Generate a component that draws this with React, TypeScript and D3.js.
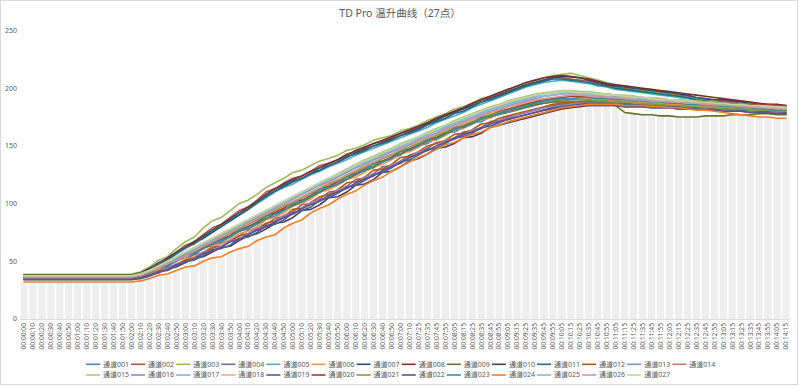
import React from 'react';
import * as d3 from 'd3';

const W = 800;
const H = 387;

const title = 'TD Pro 温升曲线（27点）';

const times = [
  '00:00:00','00:00:10','00:00:20','00:00:30','00:00:40','00:00:50','00:01:00','00:01:10','00:01:20','00:01:30',
  '00:01:40','00:01:50','00:02:00','00:02:10','00:02:20','00:02:30','00:02:40','00:02:50','00:03:00','00:03:10',
  '00:03:20','00:03:30','00:03:40','00:03:50','00:04:00','00:04:10','00:04:20','00:04:30','00:04:40','00:04:50',
  '00:05:00','00:05:10','00:05:20','00:05:30','00:05:40','00:05:50','00:06:00','00:06:10','00:06:20','00:06:30',
  '00:06:40','00:06:50','00:07:00','00:07:10','00:07:25','00:07:35','00:07:45','00:07:55','00:08:05','00:08:15',
  '00:08:25','00:08:35','00:08:45','00:08:55','00:09:05','00:09:15','00:09:25','00:09:35','00:09:45','00:09:55',
  '00:10:05','00:10:15','00:10:25','00:10:35','00:10:45','00:10:55','00:11:05','00:11:15','00:11:25','00:11:35',
  '00:11:45','00:11:55','00:12:05','00:12:15','00:12:25','00:12:35','00:12:45','00:12:55','00:13:05','00:13:15',
  '00:13:25','00:13:35','00:13:45','00:13:55','00:14:05','00:14:15',
];

const seriesNames = [
  '通道001','通道002','通道003','通道004','通道005','通道006','通道007','通道008','通道009','通道010',
  '通道011','通道012','通道013','通道014','通道015','通道016','通道017','通道018','通道019','通道020',
  '通道021','通道022','通道023','通道024','通道025','通道026','通道027',
];

const seriesColors = [
  '#4F81BD','#C0504D','#9BBB59','#8064A2','#4BACC6','#F79646','#2C4D75','#772C2A','#5F7530','#4D3B62',
  '#276A7C','#B65708','#729ACA','#CD7371','#AFC97A','#9983B5','#6FBDD1','#F9AB6B','#3A679C','#9F3B38',
  '#7E9C40','#664F83','#358EA6','#F07F24','#95B3D7','#D99694','#C3D69B',
];

const yTicks = [0, 50, 100, 150, 200, 250];

const ch001 = [35,35,35,35,35,35,35,35,35,35,35,35,35,
  37,40,42,46,51,53,56,61,64,67, 71,76,78,82,87,89,94,99,101,105,
  110,114,116,121,126,128,131,137,139,142, 147,150,152,157,161,162,166,170,171,175,
  177,179,181,183,185,187,188,189,190,190, 190,189,189,188,188,187,187,186,186,185,
  185,184,183,183,183,182,182,181,181,180, 180,179,179];
const ch002 = [37.5,37.5,37.5,37.5,37.5,37.5,37.5,37.5,37.5,37.5,37.5,37.5,37.5,
  40,44,49,52,58,64,67,73,79,82, 88,94,97,103,110,113,118,122,124,128,
  133,135,138,143,145,148,152,154,157,161, 163,166,170,173,176,180,182,186,190,192,
  195,198,201,203,205,207,209,209,208,207, 206,204,203,201,200,199,198,197,196,195,
  194,193,191,190,189,189,188,187,186,186, 185,185,184];
const ch003 = [38.7,38.7,38.7,38.7,38.7,38.7,38.7,38.7,38.7,38.7,38.7,38.7,38.7,
  41,45,51,54,61,67,71,79,85,88, 94,100,103,108,114,118,122,127,129,133,
  137,139,142,146,148,151,155,157,159,163, 165,168,172,175,178,182,184,187,191,193,
  196,199,201,204,206,209,211,212,213,211, 209,207,205,203,201,200,198,197,196,195,
  193,192,191,190,189,188,187,186,185,184, 183,183,182];
const ch004 = [35.5,35.5,35.5,35.5,35.5,35.5,35.5,35.5,35.5,35.5,35.5,35.5,35.5,
  37,39,43,45,47,51,56,57,61,66, 68,72,77,78,82,87,89,93,99,100,
  104,110,111,115,121,122,126,132,133,137, 142,144,148,153,154,157,162,163,166,171,
  172,175,177,179,181,183,185,186,187,188, 188,188,187,187,186,186,185,185,184,184,
  183,183,182,182,181,181,180,180,179,179, 179,178,178];
const ch005 = [36,36,36,36,36,36,36,36,36,36,36,36,36,
  39,42,46,51,56,61,66,70,75,80, 85,90,95,100,105,110,114,117,121,125,
  128,132,135,138,142,145,148,151,154,157, 160,163,166,170,173,176,179,183,186,189,
  192,195,198,201,203,205,206,207,206,205, 204,202,201,199,198,197,196,195,194,193,
  192,191,189,188,187,187,186,185,184,184, 183,182,181];
const ch006 = [34,34,34,34,34,34,34,34,34,34,34,34,34,
  36,38,42,44,47,52,54,58,63,65, 69,74,76,80,86,88,92,98,100,104,
  110,112,116,121,123,127,132,134,138,143, 145,149,154,155,159,164,165,169,173,174,
  178,180,182,184,186,188,189,190,191,191, 191,190,190,189,189,188,188,187,187,186,
  186,185,185,184,184,183,183,182,182,181, 181,180,180];
const ch007 = [36.5,36.5,36.5,36.5,36.5,36.5,36.5,36.5,36.5,36.5,36.5,36.5,36.5,
  39,43,47,52,57,62,66,70,75,80, 85,90,95,101,106,111,115,119,122,126,
  129,133,136,140,144,147,150,153,156,159, 162,165,169,172,176,179,182,185,188,191,
  194,197,200,203,205,207,209,210,210,209, 207,205,203,202,201,200,199,198,197,196,
  195,194,192,191,190,190,189,188,187,186, 185,185,184];
const ch008 = [38,38,38,38,38,38,38,38,38,38,38,38,38,
  40,44,48,53,58,62,67,72,77,82, 87,92,97,102,108,113,117,121,124,128,
  131,135,138,142,146,149,152,155,158,161, 164,167,170,174,177,180,183,187,190,193,
  196,199,202,205,207,209,210,211,210,209, 208,206,204,203,202,201,200,199,198,197,
  196,195,194,193,192,191,190,189,188,187, 186,186,185];
const ch009 = [38.3,38.3,38.3,38.3,38.3,38.3,38.3,38.3,38.3,38.3,38.3,38.3,38.3,
  40,42,45,48,51,55,58,62,65,69, 72,76,80,83,87,91,95,98,102,106,
  110,114,117,121,125,129,132,136,140,143, 147,150,154,157,160,164,167,170,173,176,
  178,180,182,184,186,187,188,188,188,187, 187,187,186,185,179,178,177,177,176,176,
  175,175,175,176,176,176,177,177,177,178, 178,177,177];
const ch010 = [35,35,35,35,35,35,35,35,35,35,35,35,35,
  36,38,40,44,45,49,53,54,58,62, 63,68,72,74,78,83,84,88,94,95,
  99,105,106,110,116,117,121,127,128,132, 137,139,143,148,149,152,157,158,161,166,
  168,170,172,174,176,178,180,182,183,184, 185,185,185,185,184,184,184,183,183,183,
  182,182,182,181,181,181,180,180,180,179, 179,179,178];
const ch011 = [37,37,37,37,37,37,37,37,37,37,37,37,37,
  39,43,48,51,57,62,65,71,77,80, 86,92,95,101,107,111,116,120,122,126,
  131,133,136,141,143,146,150,152,155,159, 161,164,168,171,174,178,180,184,188,190,
  193,196,199,202,204,206,208,208,207,206, 205,203,202,200,199,198,197,196,195,194,
  193,192,190,189,188,188,187,186,185,185, 184,184,183];
const ch012 = [34.5,34.5,34.5,34.5,34.5,34.5,34.5,34.5,34.5,34.5,34.5,34.5,34.5,
  36,38,42,43,47,51,53,57,62,63, 67,72,74,78,83,85,89,95,96,101,
  106,108,112,118,119,123,129,130,134,140, 141,145,150,152,155,160,161,164,169,170,
  174,176,178,180,182,184,186,187,188,188, 189,189,188,188,187,187,186,186,185,185,
  184,184,183,183,182,182,181,181,180,180, 179,179,178];
const ch013 = [36.5,36.5,36.5,36.5,36.5,36.5,36.5,36.5,36.5,36.5,36.5,36.5,36.5,
  38,41,44,48,52,56,60,64,68,72, 76,80,84,88,92,96,100,104,108,112,
  116,119,123,127,131,134,138,141,145,148, 151,155,158,161,165,168,171,174,177,180,
  182,185,187,189,191,193,194,195,196,196, 195,195,194,194,193,192,192,191,190,190,
  189,189,188,187,187,186,186,185,185,184, 184,183,183];
const ch014 = [37,37,37,37,37,37,37,37,37,37,37,37,37,
  39,42,45,49,53,57,61,65,69,73, 77,81,85,89,93,97,101,105,109,113,
  117,121,124,128,132,136,139,143,146,150, 153,157,160,163,167,170,173,176,179,182,
  184,187,189,191,193,195,196,197,197,197, 196,195,195,194,193,193,192,191,191,190,
  190,189,189,188,188,187,187,186,186,185, 185,184,184];
const ch015 = [37.5,37.5,37.5,37.5,37.5,37.5,37.5,37.5,37.5,37.5,37.5,37.5,37.5,
  39,42,46,50,54,58,62,66,70,74, 78,82,86,90,94,98,102,106,110,114,
  118,122,126,130,134,138,141,145,148,152, 155,158,162,165,168,172,175,178,181,184,
  186,189,191,193,195,196,197,198,198,197, 197,196,195,194,194,193,192,192,191,190,
  190,189,189,188,188,187,187,186,186,185, 185,184,184];
const ch016 = [35,35,35,35,35,35,35,35,35,35,35,35,35,
  36,39,40,44,48,49,53,58,59,63, 68,69,74,79,80,84,90,91,95,101,
  103,106,112,114,117,123,125,128,134,136, 140,145,146,150,155,156,159,164,165,169,
  172,174,177,179,181,183,184,185,186,187, 187,187,187,186,186,185,185,185,184,184,
  183,183,183,182,182,181,181,181,180,180, 180,179,179];
const ch017 = [36,36,36,36,36,36,36,36,36,36,36,36,36,
  38,41,45,49,53,57,61,65,69,73, 77,81,85,90,94,98,102,106,110,114,
  118,121,125,129,133,136,140,143,147,150, 154,157,160,164,167,170,173,176,179,182,
  185,187,189,191,193,195,196,196,196,196, 195,194,193,193,192,191,191,190,189,189,
  188,188,187,187,186,186,185,185,184,184, 183,183,182];
const ch018 = [35.5,35.5,35.5,35.5,35.5,35.5,35.5,35.5,35.5,35.5,35.5,35.5,35.5,
  37,40,43,47,51,54,58,62,66,70, 74,78,82,86,89,93,97,101,105,109,
  113,117,120,124,128,132,135,139,142,146, 149,153,156,159,163,166,169,172,175,178,
  180,182,185,187,189,190,191,192,193,193, 193,192,192,191,191,190,190,189,188,188,
  187,187,186,186,185,185,184,184,183,183, 182,182,181];
const ch019 = [34,34,34,34,34,34,34,34,34,34,34,34,34,
  35,37,41,42,46,50,51,55,60,61, 64,70,71,75,81,82,86,92,94,97,
  103,105,109,114,116,120,125,127,131,136, 138,142,147,148,152,157,158,161,166,167,
  170,173,175,177,179,181,183,184,185,186, 187,187,187,186,186,186,185,185,185,184,
  184,183,183,183,182,182,181,181,181,180, 180,180,179];
const ch020 = [36,36,36,36,36,36,36,36,36,36,36,36,36,
  38,41,45,46,51,56,57,62,67,69, 72,78,80,84,90,92,96,102,103,107,
  113,115,119,124,126,130,135,137,140,146, 147,151,156,157,161,166,167,170,175,176,
  180,182,184,186,188,190,191,192,193,193, 193,193,192,192,191,191,190,190,189,189,
  189,188,188,188,187,187,187,186,186,186, 186,185,185];
const ch021 = [37,37,37,37,37,37,37,37,37,37,37,37,37,
  39,41,44,48,51,55,59,63,67,70, 74,78,82,86,90,94,98,101,105,109,
  113,117,120,124,128,131,135,139,142,146, 149,152,156,159,162,165,168,171,174,177,
  179,181,183,185,187,188,189,190,190,190, 190,189,189,188,188,187,187,186,186,185,
  185,184,184,183,183,182,182,182,181,181, 181,180,180];
const ch022 = [34.5,34.5,34.5,34.5,34.5,34.5,34.5,34.5,34.5,34.5,34.5,34.5,34.5,
  36,38,40,43,47,49,52,57,59,62, 67,69,73,77,80,84,88,91,96,99,
  102,107,110,113,118,121,124,129,132,135, 140,143,146,150,153,156,160,162,165,169,
  171,173,175,177,179,181,182,183,184,185, 185,185,185,185,184,184,184,183,183,183,
  182,182,182,181,181,180,180,180,179,179, 179,178,178];
const ch023 = [36,36,36,36,36,36,36,36,36,36,36,36,36,
  38,40,44,46,50,55,57,61,66,68, 71,77,79,83,89,91,94,100,102,106,
  112,114,117,123,125,129,134,136,139,145, 146,150,155,156,160,165,166,169,174,175,
  178,181,183,185,187,189,190,191,191,192, 192,191,191,190,190,189,189,188,188,187,
  187,186,186,185,185,184,184,183,183,182, 182,181,181];
const ch024 = [32,32,32,32,32,32,32,32,32,32,32,32,32,
  33,35,38,39,42,45,46,50,53,54, 58,61,63,68,71,73,79,83,86,92,
  96,99,104,108,111,116,120,123,128,132, 136,140,143,147,151,153,157,160,162,166,
  168,171,173,175,177,179,181,183,184,185, 186,186,186,186,185,185,185,184,184,183,
  183,182,181,181,180,179,178,177,176,175, 175,174,174];
const ch025 = [37,37,37,37,37,37,37,37,37,37,37,37,37,
  39,42,45,49,53,57,61,65,69,73, 77,81,85,89,93,97,101,105,109,113,
  117,120,124,128,132,135,139,142,146,149, 153,156,159,163,166,169,172,175,178,181,
  183,186,188,190,192,193,194,195,195,195, 194,194,193,192,192,191,190,190,189,189,
  188,188,187,187,186,186,185,185,184,184, 183,183,182];
const ch026 = [36.5,36.5,36.5,36.5,36.5,36.5,36.5,36.5,36.5,36.5,36.5,36.5,36.5,
  38,41,44,48,51,55,59,63,67,71, 75,79,83,87,91,95,99,102,106,110,
  114,118,121,125,129,133,136,140,143,147, 150,154,157,160,164,167,170,173,176,179,
  181,184,186,188,190,191,192,193,194,194, 193,193,192,192,191,190,190,189,189,188,
  188,187,187,186,186,185,185,184,184,183, 183,182,182];
const ch027 = [37.5,37.5,37.5,37.5,37.5,37.5,37.5,37.5,37.5,37.5,37.5,37.5,37.5,
  39,42,46,50,54,58,62,66,70,74, 78,82,86,90,94,98,102,106,110,114,
  118,122,125,129,133,137,140,144,147,151, 154,158,161,164,168,171,174,177,180,183,
  185,188,190,192,194,195,196,197,197,196, 196,195,194,194,193,192,192,191,190,190,
  189,189,188,188,187,187,186,186,185,185, 184,184,183];

const seriesValues = [
  ch001, ch002, ch003, ch004, ch005, ch006, ch007, ch008, ch009, ch010,
  ch011, ch012, ch013, ch014, ch015, ch016, ch017, ch018, ch019, ch020,
  ch021, ch022, ch023, ch024, ch025, ch026, ch027,
];

const FONT = "'Noto Sans', 'Noto Sans CJK SC', sans-serif";
const TEXT = '#595959';

export default function App() {
  const idx = times.map((_, i) => i);
  const x = d3.scalePoint<number>().domain(idx).range([24, 786]);
  const y = d3.scaleLinear().domain([0, 250]).range([319, 30.5]);
  const step = x.step();
  const barW = step * 0.8;

  const floorVals = idx.map((i) => d3.min(seriesValues, (s) => s[i]) as number);

  const line = d3
    .line<number>()
    .x((_, i) => x(i) as number)
    .y((d) => y(d));

  const legendX0 = 86;
  const legendDx = 45.1;
  const legendRows = [364.3, 375];
  const perRow = 14;

  return (
    <div style={{ position: 'fixed', left: 0, top: 0, width: W, height: H, background: '#fff' }}>
      <svg width={W} height={H} style={{ display: 'block' }} fontFamily={FONT}>
        <rect x={0} y={0} width={W} height={H} fill="#ffffff" />
        <rect x={0.5} y={0.5} width={W - 3} height={H - 3} fill="none" stroke="#d9d9d9" />

        <text x={400} y={16.5} textAnchor="middle" fontSize={10.5} fill={TEXT}>
          {title}
        </text>

        <g>
          {idx.map((i) => (
            <rect
              key={i}
              x={(x(i) as number) - barW / 2}
              y={y(floorVals[i])}
              width={barW}
              height={y(0) - y(floorVals[i])}
              fill="#eeeeee"
            />
          ))}
        </g>

        <g>
          {yTicks.map((t) => (
            <text key={t} x={17} y={y(t)} dy="0.35em" textAnchor="end" fontSize={7} fill={TEXT}>
              {t}
            </text>
          ))}
        </g>

        <line x1={20} x2={790} y1={y(0) + 0.5} y2={y(0) + 0.5} stroke="#d9d9d9" strokeWidth={1} />

        <g>
          {times.map((t, i) => (
            <text
              key={t + i}
              transform={`translate(${x(i)},${323}) rotate(-90)`}
              textAnchor="end"
              dy="0.35em"
              fontSize={6.7}
              fill={TEXT}
            >
              {t}
            </text>
          ))}
        </g>

        <g fill="none" strokeLinejoin="round" strokeLinecap="round">
          {seriesValues.map((s, k) => (
            <path key={k} d={line(s) || ''} stroke={seriesColors[k]} strokeWidth={1.6} />
          ))}
        </g>

        <g>
          {seriesNames.map((n, k) => {
            const row = Math.floor(k / perRow);
            const col = k % perRow;
            const lx = legendX0 + col * legendDx;
            const ly = legendRows[row];
            return (
              <g key={n}>
                <line x1={lx} x2={lx + 14} y1={ly} y2={ly} stroke={seriesColors[k]} strokeWidth={1.6} />
                <text x={lx + 17} y={ly} dy="0.35em" fontSize={7} fill={TEXT}>
                  {n}
                </text>
              </g>
            );
          })}
        </g>
      </svg>
    </div>
  );
}
